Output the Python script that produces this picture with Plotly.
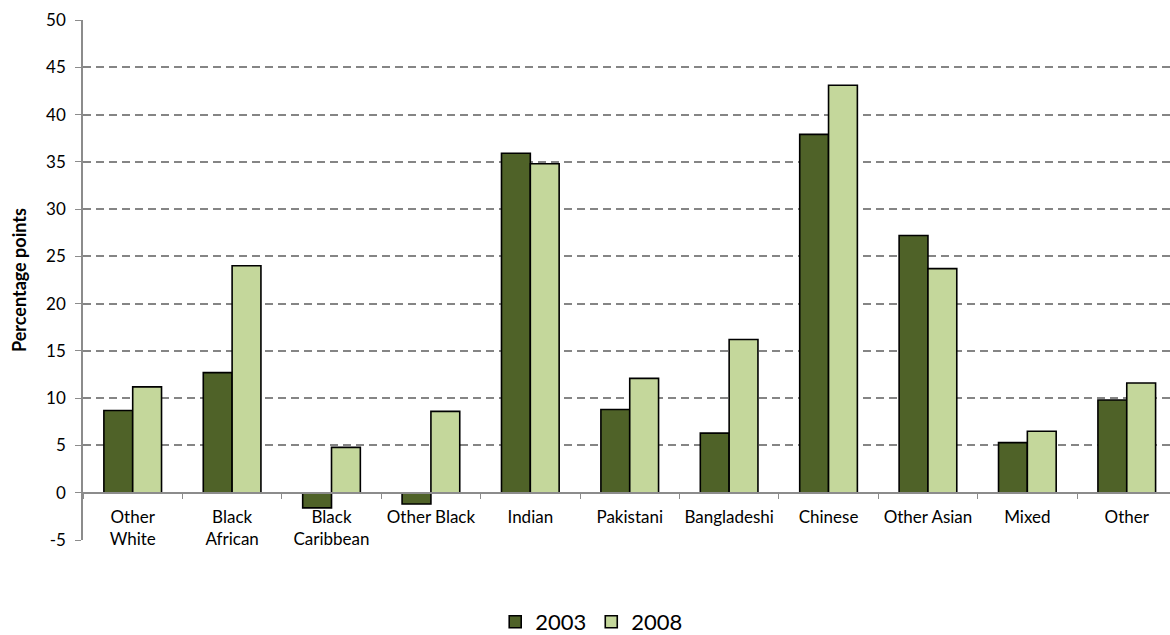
import plotly.graph_objects as go

# Categories and values (percentage points)
categories = ["Other<br>White", "Black<br>African", "Black<br>Caribbean", "Other Black",
              "Indian", "Pakistani", "Bangladeshi", "Chinese", "Other Asian", "Mixed", "Other"]
values_2003 = [8.7, 12.7, -1.6, -1.2, 35.9, 8.8, 6.3, 37.9, 27.2, 5.3, 9.8]
values_2008 = [11.2, 24.0, 4.8, 8.6, 34.8, 12.1, 16.2, 43.1, 23.7, 6.5, 11.6]
y_ticks = [-5, 0, 5, 10, 15, 20, 25, 30, 35, 40, 45, 50]
y_tick_text = ["-5", "0", "5", "10", "15", "20", "25", "30", "35", "40", "45", "50"]

FONT = "Lato, 'Open Sans', sans-serif"

fig = go.Figure()
fig.add_trace(go.Bar(x=categories, y=values_2003, name="2003",
                     marker=dict(color="#4F6228", line=dict(color="#000000", width=1.6))))
fig.add_trace(go.Bar(x=categories, y=values_2008, name="2008",
                     marker=dict(color="#C4D79B", line=dict(color="#000000", width=1.6))))

fig.update_layout(
    width=1170, height=635,
    margin=dict(l=83, r=0, t=20, b=95, autoexpand=False),
    paper_bgcolor="white", plot_bgcolor="white",
    barmode="group", bargap=0.42, bargroupgap=0,
    font=dict(family=FONT, size=17, color="#000000"),
    showlegend=True,
    legend=dict(orientation="h", x=0.468, xref="paper", xanchor="center",
                y=13 / 635, yref="container", yanchor="middle", font=dict(size=22),
                itemwidth=30, tracegroupgap=0),
    xaxis=dict(
        type="category", range=[-0.5, 10.435],
        anchor="free", position=5 / 55,
        showline=True, linecolor="#8c8c8c", linewidth=1.5,
        ticks="outside", tickson="boundaries", ticklen=6, tickcolor="#8c8c8c",
        ticklabelstandoff=9,
        showgrid=False, tickfont=dict(size=17),
    ),
    yaxis=dict(
        range=[-5, 50], tickvals=y_ticks, ticktext=y_tick_text,
        showline=True, linecolor="#8c8c8c", linewidth=1.5,
        ticks="outside", ticklen=6, tickcolor="#8c8c8c",
        ticklabelstandoff=6,
        showgrid=True, gridcolor="#858585", gridwidth=1.5, griddash="8px,5px",
        zeroline=False, tickfont=dict(size=17),
    ),
    annotations=[dict(
        text="<b>Percentage points</b>", textangle=-90,
        xref="paper", yref="paper", x=0, y=0.5, xshift=-64,
        xanchor="center", yanchor="middle", showarrow=False,
        font=dict(size=18, family=FONT),
    )],
)

fig.write_html("out.html")
